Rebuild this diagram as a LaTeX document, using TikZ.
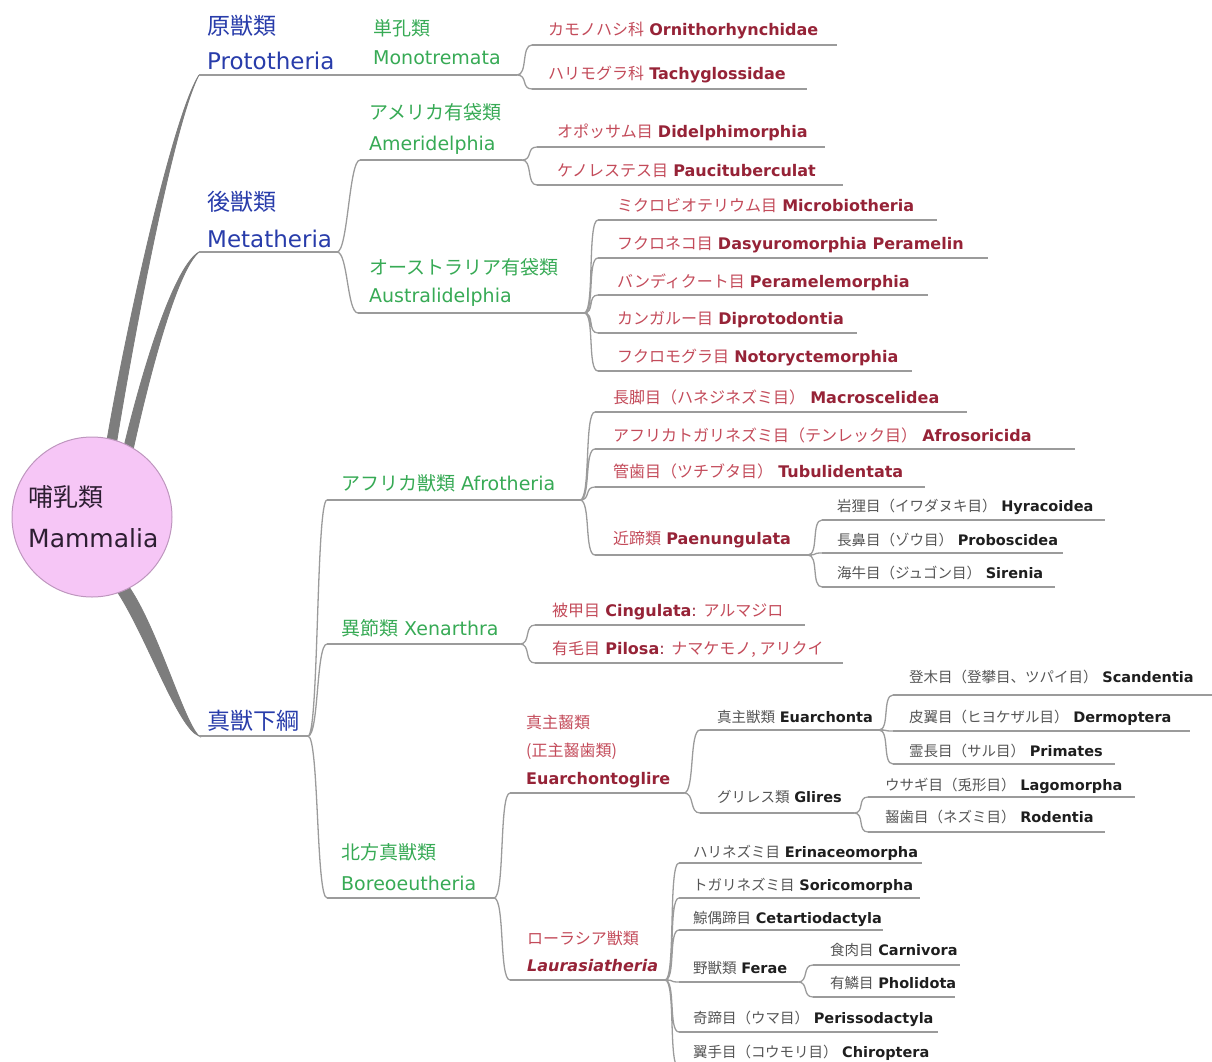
\documentclass[tikz,border=0pt]{standalone}
\usepackage{fontspec}
\setmainfont{DejaVu Sans}
\newfontfamily\jp{Noto Sans CJK JP}
\usetikzlibrary{backgrounds}
\definecolor{cblue}{RGB}{40,60,170}
\definecolor{cgreen}{RGB}{55,170,85}
\definecolor{cred}{RGB}{150,35,55}
\definecolor{credl}{RGB}{195,75,90}
\definecolor{cdark}{RGB}{30,30,30}
\definecolor{cgrayj}{RGB}{85,85,85}
\definecolor{cline}{RGB}{155,155,155}
\definecolor{ctrunk}{RGB}{125,125,125}
\definecolor{cpink}{RGB}{246,198,246}
\definecolor{cpinkb}{RGB}{190,150,190}
\definecolor{croot}{RGB}{45,30,50}
\newcommand\jtx[1]{{\jp #1}}
\newcommand\jr[1]{{\jp\color{credl}#1}}
\newcommand\jg[1]{{\jp\color{cgrayj}#1}}
\newcommand\lab[8]{%
  \coordinate (#1-l) at (#2,#4);
  \coordinate (#1-r) at (#3,#4);
  \draw[uline] (#1-l) -- (#1-r);
  \node[#7,anchor=base west] (#1) at (#5,#6) {#8};}
\tikzset{
  uline/.style={draw=cline,line width=1.3pt},
  conn/.style={draw=cline,line width=1.3pt},
  br/.style={out=0,in=180,out distance=11pt,in distance=11pt},
  lbl/.style={inner sep=0pt},
  rootf/.style={lbl,font=\fontsize{25}{30}\selectfont,text=croot},
  l1/.style={lbl,font=\fontsize{23}{28}\selectfont,text=cblue},
  l2/.style={lbl,font=\fontsize{19}{24}\selectfont,text=cgreen},
  l3/.style={lbl,font=\fontsize{16}{20}\selectfont,text=cred},
  l4/.style={lbl,font=\fontsize{14.5}{18}\selectfont,text=cdark},
  trunk/.style={fill=ctrunk,draw=ctrunk,line width=0.8pt}
}
\begin{document}
\begin{tikzpicture}[x=1pt,y=-1pt]
\useasboundingbox (0,0) rectangle (1212,1062);
% root
\node[circle,minimum size=160pt,inner sep=0pt,fill=cpink,draw=cpinkb,line width=1pt] (root) at (92,517) {};
\node[rootf,anchor=base west] (rootj) at (28,506) {\jtx{哺乳類}};
\node[rootf,anchor=base west] (rootl) at (28,547) {Mammalia};
% level 1
\lab{pro}{199}{360}{75}{207}{70}{l1}{Prototheria}
\node[l1,anchor=base west] (pro-a) at (207,35) {\jtx{原獣類}};
\lab{met}{199}{337}{252}{207}{247}{l1}{Metatheria}
\node[l1,anchor=base west] (met-a) at (207,210) {\jtx{後獣類}};
\lab{eut}{199}{308}{736}{207}{729}{l1}{\jtx{真獣下綱}}
% level 2
\lab{mono}{366}{517}{75}{373}{65}{l2}{Monotremata}
\node[l2,anchor=base west] (mono-a) at (373,36) {\jtx{単孔類}};
\lab{ame}{360}{522}{160}{369}{150}{l2}{Ameridelphia}
\node[l2,anchor=base west] (ame-a) at (369,120) {\jtx{アメリカ有袋類}};
\lab{aus}{358}{584}{313}{369}{302}{l2}{Australidelphia}
\node[l2,anchor=base west] (aus-a) at (369,274) {\jtx{オーストラリア有袋類}};
\lab{afr}{327}{580}{500}{341}{490}{l2}{\jtx{アフリカ獣類} Afrotheria}
\lab{xen}{327}{520}{644}{341}{635}{l2}{\jtx{異節類} Xenarthra}
\lab{bor}{327}{494}{898}{341}{890}{l2}{Boreoeutheria}
\node[l2,anchor=base west] (bor-a) at (341,859) {\jtx{北方真獣類}};
% level 3 (red)
\lab{orn}{532}{837}{45}{548}{36}{l3}{\jr{カモノハシ科} \textbf{Ornithorhynchidae}}
\lab{tac}{532}{807}{89}{548}{80}{l3}{\jr{ハリモグラ科} \textbf{Tachyglossidae}}
\lab{did}{537}{825}{147}{557}{138}{l3}{\jr{オポッサム目} \textbf{Didelphimorphia}}
\lab{pau}{537}{843}{185}{557}{176}{l3}{\jr{ケノレステス目} \textbf{Paucituberculat}}
\lab{mic}{598}{937}{220}{617}{211}{l3}{\jr{ミクロビオテリウム目} \textbf{Microbiotheria}}
\lab{das}{598}{988}{258}{617}{249}{l3}{\jr{フクロネコ目} \textbf{Dasyuromorphia Peramelin}}
\lab{per}{598}{928}{295}{617}{287}{l3}{\jr{バンディクート目} \textbf{Peramelemorphia}}
\lab{dip}{598}{857}{333}{617}{324}{l3}{\jr{カンガルー目} \textbf{Diprotodontia}}
\lab{not}{598}{912}{371}{617}{362}{l3}{\jr{フクロモグラ目} \textbf{Notoryctemorphia}}
\lab{mac}{595}{967}{412}{613}{403}{l3}{\jr{長脚目（ハネジネズミ目）} \textbf{Macroscelidea}}
\lab{afs}{595}{1075}{449}{613}{441}{l3}{\jr{アフリカトガリネズミ目（テンレック目）} \textbf{Afrosoricida}}
\lab{tub}{595}{925}{487}{613}{477}{l3}{\jr{管歯目（ツチブタ目）} \textbf{Tubulidentata}}
\lab{pae}{595}{808}{555}{613}{544}{l3}{\jr{近蹄類} \textbf{Paenungulata}}
\lab{cin}{535}{805}{625}{552}{616}{l3}{\jr{被甲目} \textbf{Cingulata}: \jr{アルマジロ}}
\lab{pil}{535}{843}{663}{552}{654}{l3}{\jr{有毛目} \textbf{Pilosa}: \jr{ナマケモノ, アリクイ}}
\lab{eua}{510}{684}{793}{526}{784}{l3}{\textbf{Euarchontoglire}}
\node[l3,anchor=base west] (eua-a) at (526,728) {\jr{真主齧類}};
\node[l3,anchor=base west] (eua-b) at (526,756) {\jr{(正主齧歯類)}};
\lab{lau}{510}{665}{980}{527}{971}{l3}{\textbf{\itshape Laurasiatheria}}
\node[l3,anchor=base west] (lau-a) at (527,944) {\jr{ローラシア獣類}};
% level 4+ (dark)
\lab{hyr}{822}{1105}{520}{837}{511}{l4}{\jg{岩狸目（イワダヌキ目）} \textbf{Hyracoidea}}
\lab{prb}{822}{1063}{553}{837}{545}{l4}{\jg{長鼻目（ゾウ目）} \textbf{Proboscidea}}
\lab{sir}{822}{1055}{587}{837}{578}{l4}{\jg{海牛目（ジュゴン目）} \textbf{Sirenia}}
\lab{euc}{700}{879}{730}{717}{722}{l4}{\jg{真主獣類} \textbf{Euarchonta}}
\lab{gli}{700}{854}{813}{717}{802}{l4}{\jg{グリレス類} \textbf{Glires}}
\lab{sca}{893}{1212}{695}{909}{682}{l4}{\jg{登木目（登攀目、ツパイ目）} \textbf{Scandentia}}
\lab{der}{893}{1190}{731}{909}{722}{l4}{\jg{皮翼目（ヒヨケザル目）} \textbf{Dermoptera}}
\lab{pri}{893}{1115}{764}{909}{756}{l4}{\jg{霊長目（サル目）} \textbf{Primates}}
\lab{lag}{868}{1135}{797}{885}{790}{l4}{\jg{ウサギ目（兎形目）} \textbf{Lagomorpha}}
\lab{rod}{868}{1105}{832}{885}{822}{l4}{\jg{齧歯目（ネズミ目）} \textbf{Rodentia}}
\lab{eri}{679}{922}{863}{693}{857}{l4}{\jg{ハリネズミ目} \textbf{Erinaceomorpha}}
\lab{sor}{679}{920}{898}{693}{890}{l4}{\jg{トガリネズミ目} \textbf{Soricomorpha}}
\lab{cet}{679}{883}{930}{693}{923}{l4}{\jg{鯨偶蹄目} \textbf{Cetartiodactyla}}
\lab{fer}{679}{798}{982}{693}{973}{l4}{\jg{野獣類} \textbf{Ferae}}
\lab{car}{813}{960}{965}{830}{955}{l4}{\jg{食肉目} \textbf{Carnivora}}
\lab{pho}{813}{955}{997}{830}{988}{l4}{\jg{有鱗目} \textbf{Pholidota}}
\lab{pes}{679}{938}{1032}{693}{1023}{l4}{\jg{奇蹄目（ウマ目）} \textbf{Perissodactyla}}
\lab{chi}{679}{940}{1068}{693}{1057}{l4}{\jg{翼手目（コウモリ目）} \textbf{Chiroptera}}
% connectors
\draw[conn] (pro-r) -- (mono-l);
\draw[conn] (mono-r) to[br] (orn-l) (mono-r) to[br] (tac-l);
\draw[conn] (met-r) to[br] (ame-l) (met-r) to[br] (aus-l);
\draw[conn] (ame-r) to[br] (did-l) (ame-r) to[br] (pau-l);
\draw[conn] (aus-r) to[br] (mic-l) (aus-r) to[br] (das-l) (aus-r) to[br] (per-l)
  (aus-r) to[br] (dip-l) (aus-r) to[br] (not-l);
\draw[conn] (eut-r) to[br] (afr-l) (eut-r) to[br] (xen-l) (eut-r) to[br] (bor-l);
\draw[conn] (afr-r) to[br] (mac-l) (afr-r) to[br] (afs-l) (afr-r) to[br] (tub-l) (afr-r) to[br] (pae-l);
\draw[conn] (pae-r) to[br] (hyr-l) (pae-r) to[br] (prb-l) (pae-r) to[br] (sir-l);
\draw[conn] (xen-r) to[br] (cin-l) (xen-r) to[br] (pil-l);
\draw[conn] (bor-r) to[br] (eua-l) (bor-r) to[br] (lau-l);
\draw[conn] (eua-r) to[br] (euc-l) (eua-r) to[br] (gli-l);
\draw[conn] (euc-r) to[br] (sca-l) (euc-r) to[br] (der-l) (euc-r) to[br] (pri-l);
\draw[conn] (gli-r) to[br] (lag-l) (gli-r) to[br] (rod-l);
\draw[conn] (lau-r) to[br] (eri-l) (lau-r) to[br] (sor-l) (lau-r) to[br] (cet-l)
  (lau-r) to[br] (fer-l) (lau-r) to[br] (pes-l) (lau-r) to[br] (chi-l);
\draw[conn] (fer-r) to[br] (car-l) (fer-r) to[br] (pho-l);
% tapered trunks from the root
\begin{pgfonlayer}{background}
\filldraw[trunk] (root.79) .. controls (126,330) and (172,118) .. (pro-l)
  .. controls (174,122) and (134,335) .. (root.72) -- cycle;
\filldraw[trunk] (root.66) .. controls (145,360) and (175,266) .. (met-l)
  .. controls (178,270) and (152,364) .. (root.59) -- cycle;
\filldraw[trunk] (root.-71) .. controls (148,640) and (178,728) .. (eut-l)
  .. controls (184,722) and (158,630) .. (root.-62) -- cycle;
\end{pgfonlayer}
\end{tikzpicture}
\end{document}
